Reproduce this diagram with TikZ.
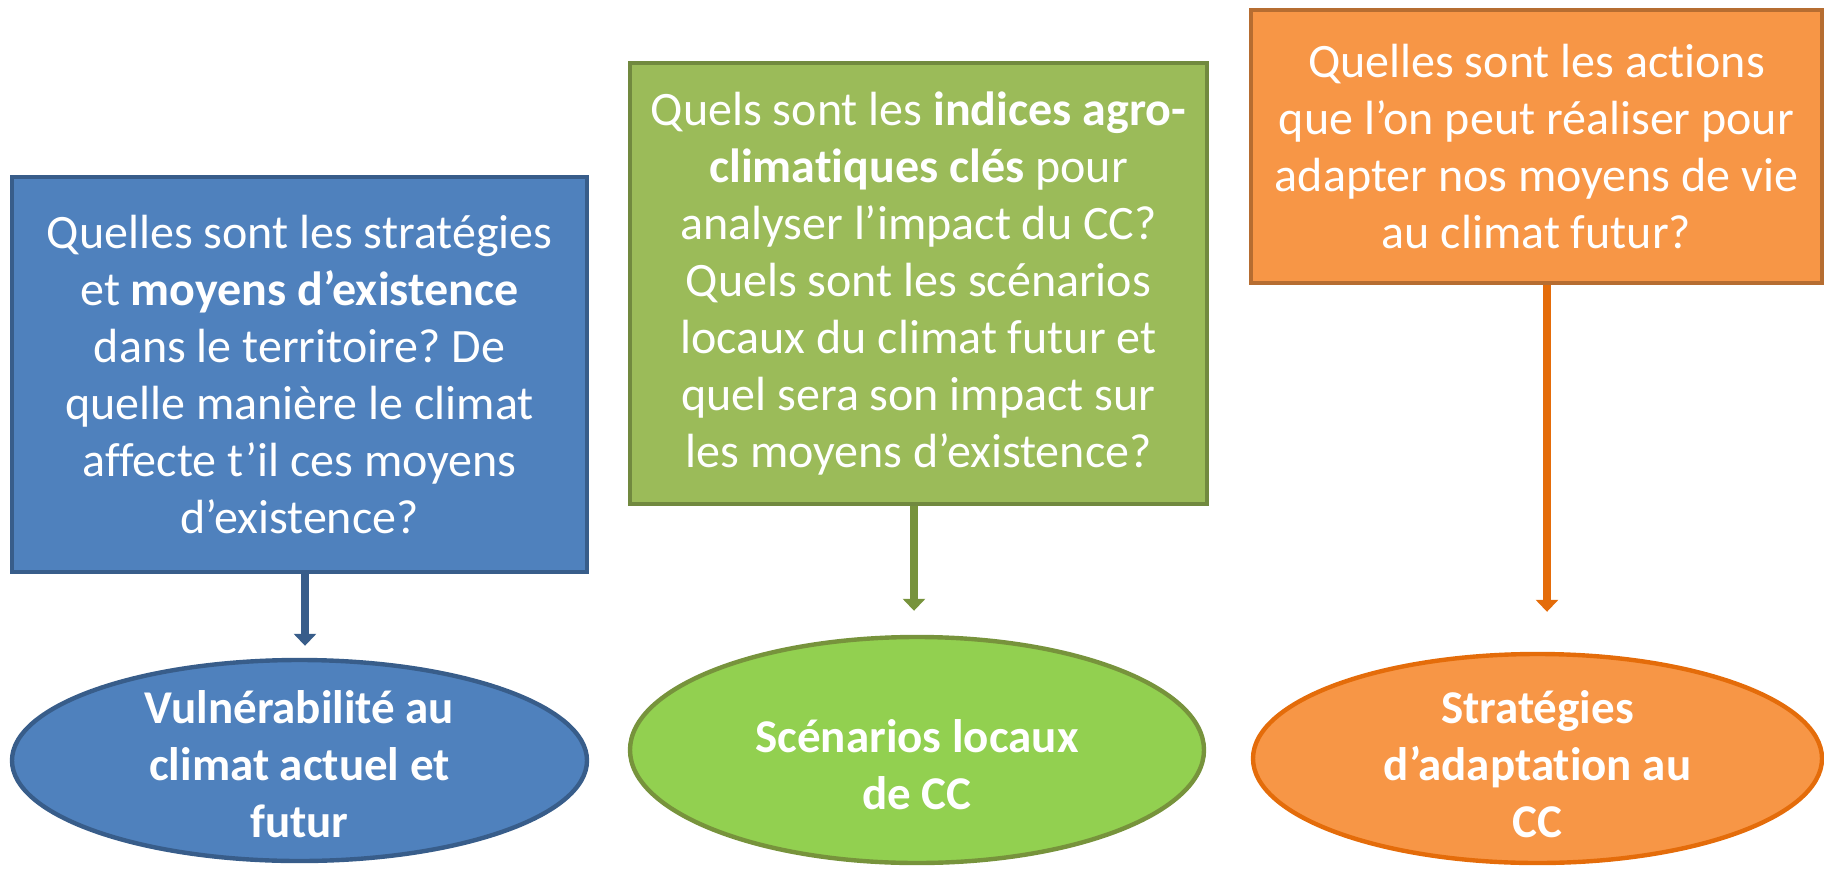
\documentclass[tikz,border=0pt]{standalone}
\usepackage{fontspec}
\setmainfont{Carlito}[RawFeature={-liga;-clig;-calt;-dlig}]
\usetikzlibrary{shapes.geometric,arrows.meta}
\frenchspacing
\definecolor{blueF}{HTML}{4F81BD}
\definecolor{blueD}{HTML}{385D8A}
\definecolor{greenF}{HTML}{9BBB59}
\definecolor{greenD}{HTML}{71893F}
\definecolor{greenE}{HTML}{92D050}
\definecolor{greenA}{HTML}{77933C}
\definecolor{orangeF}{HTML}{F79646}
\definecolor{orangeD}{HTML}{B66D31}
\definecolor{orangeE}{HTML}{E46C0A}
\tikzset{
  qbox/.style={rectangle, draw, line width=1.6pt, inner sep=0pt, align=center,
    text=white, font=\fontsize{24}{28.5}\selectfont},
  ebox/.style={ellipse, draw, line width=2.2pt, inner sep=0pt},
  etext/.style={align=center, text=white, inner sep=0pt,
    font=\fontsize{23.5}{28.5}\selectfont\bfseries},
  conn/.style={line width=4.2pt, -{Triangle[width=11pt,length=6pt]}}
}
\begin{document}
\begin{tikzpicture}[x=0.5pt,y=-0.5pt]
\useasboundingbox (0,0) rectangle (1824,872);
% question boxes
\node[qbox, fill=blueF, draw=blueD, minimum width=287.5pt, minimum height=197.5pt] (b1) at (299.5,374.5)
  {Quelles sont les stratégies\\ et \textbf{moyens d’existence}\\ dans le territoire? De\\ quelle manière le climat\\ affecte t’il ces moyens\\ d’existence?};
\node[qbox, fill=greenF, draw=greenD, minimum width=288.5pt, minimum height=220.5pt] (b2) at (918.5,283.5)
  {Quels sont les \textbf{indices agro-}\\ \textbf{climatiques clés} pour\\ analyser l’impact du CC?\\ Quels sont les scénarios\\ locaux du climat futur et\\ quel sera son impact sur\\ les moyens d’existence?};
\node[qbox, fill=orangeF, draw=orangeD, minimum width=285.5pt, minimum height=136.5pt] (b3) at (1536.5,146.5)
  {Quelles sont les actions\\ que l’on peut réaliser pour\\ adapter nos moyens de vie\\ au climat futur?};
% result ellipses
\node[ebox, fill=blueF, draw=blueD, minimum width=287.5pt, minimum height=100.5pt] (e1) at (299.5,760.5) {};
\node[ebox, fill=greenE, draw=greenA, minimum width=287pt, minimum height=113pt] (e2) at (917,750) {};
\node[ebox, fill=orangeF, draw=orangeE, minimum width=284.5pt, minimum height=104.5pt] (e3) at (1537.5,758.5) {};
\node[etext] (t1) at (299.5,764) {Vulnérabilité au\\ climat actuel et\\ futur};
\node[etext] (t2) at (917,765) {Scénarios locaux\\ de CC};
\node[etext] (t3) at (1537.5,764) {Stratégies\\ d’adaptation au\\ CC};
% arrows
\coordinate (a1) at (305,0);
\coordinate (a2) at (914,0);
\coordinate (a3) at (1547,0);
\draw[conn, blueD, shorten >=6pt] (b1.south -| a1) -- (e1.north -| a1);
\draw[conn, greenA, shorten >=12pt] (b2.south -| a2) -- (e2.north -| a2);
\draw[conn, orangeE, shorten >=20pt] (b3.south -| a3) -- (e3.north -| a3);
\end{tikzpicture}
\end{document}
